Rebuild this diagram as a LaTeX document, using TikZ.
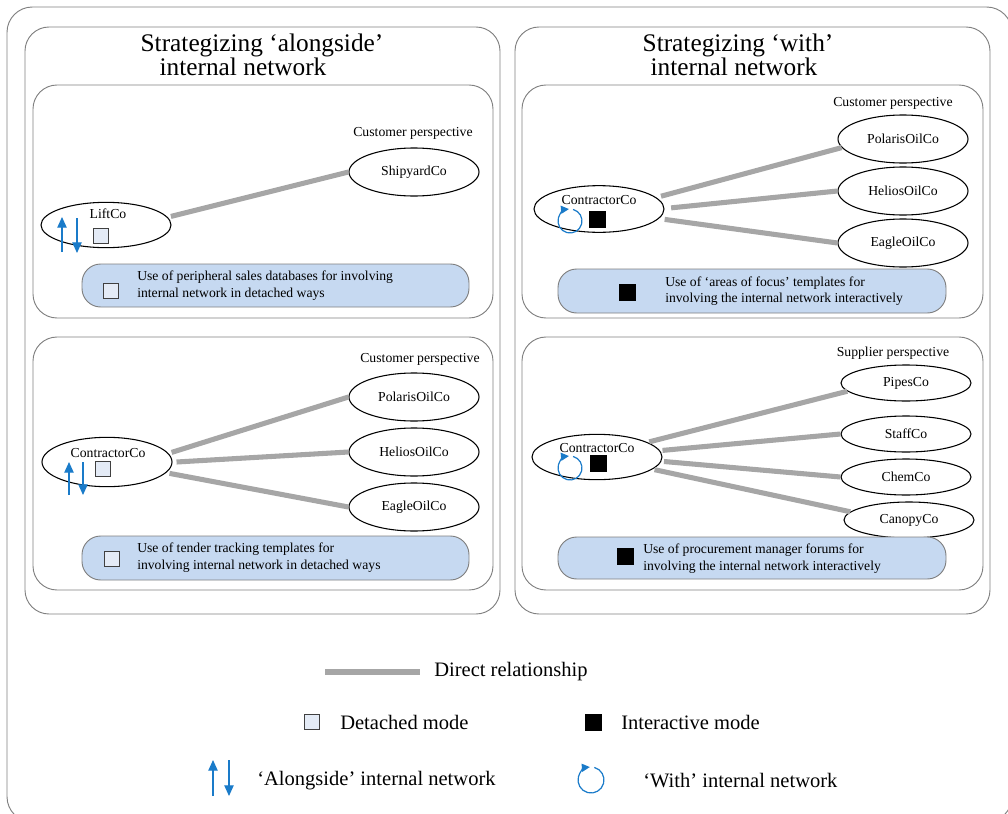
\documentclass[tikz,border=0pt]{standalone}
\usepackage{fontspec}
\setmainfont{Liberation Serif}
\usetikzlibrary{shapes.geometric,arrows.meta}
\definecolor{framegray}{HTML}{808080}
\definecolor{relgray}{HTML}{A6A6A6}
\definecolor{boxblue}{HTML}{C6D9F1}
\definecolor{sqlight}{HTML}{E4EBF6}
\definecolor{iconblue}{HTML}{1A7BC9}
\tikzset{
  panel/.style={draw=framegray, line width=0.7pt, rounded corners=18pt},
  org/.style={draw, ellipse, line width=0.8pt, minimum width=97.5pt, minimum height=36pt, inner sep=0pt, font=\fontsize{10.3}{12}\selectfont},
  orgs/.style={draw, ellipse, line width=0.8pt, minimum width=97.5pt, minimum height=27pt, inner sep=0pt, font=\fontsize{10.3}{12}\selectfont},
  lbl/.style={font=\fontsize{10.3}{12}\selectfont, inner sep=0pt},
  rel/.style={draw=relgray, line width=3.8pt},
  usebox/.style={draw=framegray, fill=boxblue, line width=0.7pt, rounded corners=14pt},
  boxtext/.style={font=\fontsize{10.25}{12.3}\selectfont, align=left, anchor=west, inner sep=0pt},
  ltsq/.style={draw=black!75, fill=sqlight, line width=0.6pt, minimum size=11.5pt, inner sep=0pt},
  dksq/.style={draw=black, fill=black, minimum size=12pt, inner sep=0pt},
  updn/.style={draw=iconblue, line width=0.9pt, -{Triangle[length=8pt,width=7pt]}},
  rot/.style={draw=iconblue, line width=0.9pt, -{Triangle[length=6pt,width=6pt]}},
  title/.style={font=\fontsize{19}{21}\selectfont, inner sep=0pt},
  legtext/.style={font=\fontsize{15.4}{18}\selectfont, anchor=west, inner sep=0pt}
}
\begin{document}
\begin{tikzpicture}[x=0.75pt,y=-0.75pt]
\useasboundingbox (0,0) rectangle (1008,814);
% outer frame
\draw[panel, rounded corners=19pt] (7,7) rectangle (1012,822);
% panels
\draw[panel] (25,27) rectangle (500,614);
\draw[panel] (515,27) rectangle (990,614);
\draw[panel] (33,85) rectangle (493,318);
\draw[panel] (33,337) rectangle (493,590);
\draw[panel] (522,85) rectangle (983,318);
\draw[panel] (522,337) rectangle (983,590);
% titles
\node[title] (tl1) at (262,45) {Strategizing ‘alongside’};
\node[title] (tl2) at (243,67) {internal network};
\node[title] (tr1) at (738,45) {Strategizing ‘with’};
\node[title] (tr2) at (734,67) {internal network};

% ---------- left top ----------
\node[lbl] (cpA) at (413,133) {Customer perspective};
\node[org] (ship) at (414,172) {ShipyardCo};
\node[org, minimum height=34pt] (lift) at (106,225) {};
\node[lbl] (liftt) at (108,214) {LiftCo};
\node[ltsq] (liftsq) at (101,236) {};
\coordinate (la1) at (62,252); \coordinate (la2) at (62,217);
\coordinate (la3) at (77,218); \coordinate (la4) at (77,253);
\draw[updn] (la1) -- (la2);
\draw[updn] (la3) -- (la4);
\draw[rel] ([xshift=3pt]lift.8) -- (ship.west);
\draw[usebox] (82,264) rectangle (469,307);
\node[ltsq] (sqA) at (111,291) {};
\node[boxtext] (txA) at (137,285.5) {Use of peripheral sales databases for involving\\internal network in detached ways};

% ---------- left bottom ----------
\node[lbl] (cpB) at (420,359) {Customer perspective};
\node[org] (polB) at (414,397) {PolarisOilCo};
\node[org] (helB) at (414,452) {HeliosOilCo};
\node[org] (eagB) at (414,507) {EagleOilCo};
\node[org, minimum height=37pt] (ccB) at (107,462) {};
\node[lbl] (ccBt) at (108,453) {ContractorCo};
\node[ltsq] (ccBsq) at (103,469) {};
\coordinate (lb1) at (69,495); \coordinate (lb2) at (69,462);
\coordinate (lb3) at (83,462); \coordinate (lb4) at (83,495);
\draw[updn] (lb1) -- (lb2);
\draw[updn] (lb3) -- (lb4);
\draw[rel] ([xshift=3pt]ccB.9) -- (polB.west);
\draw[rel] ([xshift=3pt]ccB.0) -- (helB.west);
\draw[rel] ([xshift=3pt]ccB.-11) -- (eagB.west);
\draw[usebox] (82,536) rectangle (469,580);
\node[ltsq] (sqB) at (112,559) {};
\node[boxtext] (txB) at (137,557.5) {Use of tender tracking templates for\\involving internal network in detached ways};

% ---------- right top ----------
\node[lbl] (cpC) at (893,103) {Customer perspective};
\node[org] (polC) at (903,139) {PolarisOilCo};
\node[org] (helC) at (903,191) {HeliosOilCo};
\node[org] (eagC) at (903,243) {EagleOilCo};
\node[org, minimum height=35pt] (ccC) at (599,209) {};
\node[lbl] (ccCt) at (599,200) {ContractorCo};
\node[dksq] (ccCsq) at (597,219) {};
\coordinate (cc0) at (570,221);
\draw[rot] (cc0) ++(-75:12) arc[start angle=-75, end angle=265, radius=12];
\draw[rel] ([xshift=5pt]ccC.13) -- (polC.188);
\draw[rel] ([xshift=5pt]ccC.1) -- (helC.west);
\draw[rel] ([xshift=5pt]ccC.-10) -- (eagC.west);
\draw[usebox] (558,269) rectangle (946,313);
\node[dksq] (sqC) at (627,292) {};
\node[boxtext] (txC) at (665,291) {Use of ‘areas of focus’ templates for\\involving the internal network interactively};

% ---------- right bottom ----------
\node[lbl] (cpD) at (893,353) {Supplier perspective};
\node[orgs] (pipes) at (906,383) {PipesCo};
\node[orgs] (staff) at (906,434) {StaffCo};
\node[orgs] (chem) at (906,477) {ChemCo};
\node[orgs] (canopy) at (909,520) {CanopyCo};
\node[org, minimum height=34pt] (ccD) at (597,457) {};
\node[lbl] (ccDt) at (597,448) {ContractorCo};
\node[dksq] (ccDsq) at (598,463) {};
\coordinate (cd0) at (570,468);
\draw[rot] (cd0) ++(-75:12) arc[start angle=-75, end angle=265, radius=12];
\draw[rel] ([xshift=2pt]ccD.17) -- (pipes.188);
\draw[rel] ([xshift=2pt]ccD.6) -- (staff.west);
\draw[rel] ([xshift=2pt]ccD.-4) -- (chem.west);
\draw[rel] ([xshift=2pt]ccD.-13) -- (canopy.172);
\draw[usebox] (558,537) rectangle (946,579);
\node[dksq] (sqD) at (625,556) {};
\node[boxtext] (txD) at (643,558.5) {Use of procurement manager forums for\\involving the internal network interactively};

% ---------- legend ----------
\coordinate (lg1) at (325,672); \coordinate (lg2) at (420,672);
\draw[rel] (lg1) -- (lg2);
\node[legtext] (lgt1) at (434,672) {Direct relationship};
\node[ltsq] (lgsq1) at (312,722) {};
\node[legtext] (lgt2) at (340,722) {Detached mode};
\node[dksq] (lgsq2) at (593,722) {};
\node[legtext] (lgt3) at (621,722) {Interactive mode};
\coordinate (lu1) at (213,796); \coordinate (lu2) at (213,760);
\coordinate (lu3) at (229,760); \coordinate (lu4) at (229,796);
\draw[updn] (lu1) -- (lu2);
\draw[updn] (lu3) -- (lu4);
\node[legtext] (lgt4) at (257,781) {‘Alongside’ internal network};
\coordinate (lc0) at (591,780);
\draw[rot] (lc0) ++(-75:13) arc[start angle=-75, end angle=265, radius=13];
\node[legtext] (lgt5) at (643,781) {‘With’ internal network};
\end{tikzpicture}
\end{document}
